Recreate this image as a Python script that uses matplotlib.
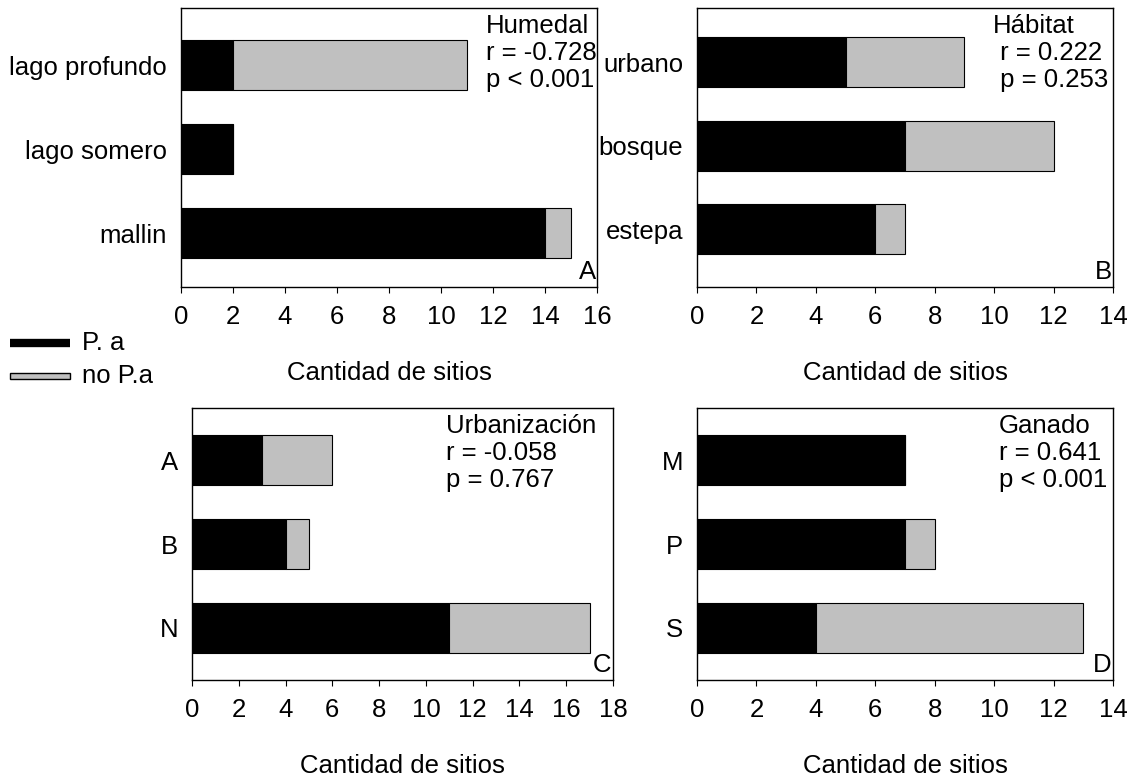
import matplotlib

matplotlib.use("Agg")
import matplotlib.pyplot as plt
from matplotlib.lines import Line2D
from matplotlib.patches import Rectangle

plt.rcParams["font.family"] = ["Liberation Sans", "DejaVu Sans"]

# panel data: categories (bottom to top), P. a counts, no P.a counts
hum_cats = ["mallin", "lago somero", "lago profundo"]
hum_pa = [14, 2, 2]
hum_no = [1, 0, 9]

hab_cats = ["estepa", "bosque", "urbano"]
hab_pa = [6, 7, 5]
hab_no = [1, 5, 4]

urb_cats = ["N", "B", "A"]
urb_pa = [11, 4, 3]
urb_no = [6, 1, 3]

gan_cats = ["S", "P", "M"]
gan_pa = [4, 7, 7]
gan_no = [9, 1, 0]

PANELS = [
    # cats, pa, no, xmax, stats text, letter, axes rect (px), ylim, text x
    (hum_cats, hum_pa, hum_no, 16, "Humedal\nr = -0.728\np < 0.001", "A",
     (181, 8, 597, 287), (-0.64, 2.68), 486),
    (hab_cats, hab_pa, hab_no, 14, "Hábitat\n r = 0.222\n p = 0.253", "B",
     (697, 8, 1113, 287), (-0.69, 2.65), 993),
    (urb_cats, urb_pa, urb_no, 18, "Urbanización\nr = -0.058\np = 0.767", "C",
     (192, 408, 613, 680), (-0.62, 2.62), 446),
    (gan_cats, gan_pa, gan_no, 14, "Ganado\nr = 0.641\np < 0.001", "D",
     (697, 408, 1113, 680), (-0.62, 2.62), 999),
]

W, H = 1141, 780
GREY = "#c0c0c0"
FS = 18.5

fig = plt.figure(figsize=(W / 100, H / 100), dpi=100)

for cats, pa, no, xmax, stats, letter, (x0, y0, x1, y1), ylim, tx in PANELS:
    ax = fig.add_axes([x0 / W, 1 - y1 / H, (x1 - x0) / W, (y1 - y0) / H])
    ypos = list(range(len(cats)))
    ax.barh(ypos, pa, height=0.6, color="black", edgecolor="black", linewidth=0.8)
    ax.barh(ypos, no, left=pa, height=0.6, color=GREY, edgecolor="black", linewidth=0.8)
    ax.set_xlim(0, xmax)
    ax.set_ylim(*ylim)
    ax.set_xticks(range(0, xmax + 1, 2))
    ax.set_yticks(ypos)
    ax.set_yticklabels(cats)
    ax.tick_params(axis="y", length=0, pad=10, labelsize=FS)
    ax.tick_params(axis="x", direction="out", length=4, pad=9, labelsize=FS)
    for s in ax.spines.values():
        s.set_linewidth(1.0)
    ax.set_xlabel("Cantidad de sitios", fontsize=FS, labelpad=23)
    fig.text(tx / W, 1 - (y0 + 6) / H, stats, ha="left", va="top",
             fontsize=FS, linespacing=1.17)
    ax.text(0.997, 0.01, letter, transform=ax.transAxes, ha="right", va="bottom",
            fontsize=FS)

# legend drawn at figure level
fig.add_artist(Line2D([10 / W, 70 / W], [1 - 343 / H, 1 - 343 / H],
                      color="black", linewidth=6, solid_capstyle="butt"))
fig.text(82 / W, 1 - 343 / H, "P. a", ha="left", va="center", fontsize=FS)
fig.add_artist(Rectangle((10 / W, 1 - 379 / H), 60 / W, 6 / H,
                         facecolor=GREY, edgecolor="black", linewidth=1.0,
                         transform=fig.transFigure))
fig.text(82 / W, 1 - 376 / H, "no P.a", ha="left", va="center", fontsize=FS)

fig.savefig("out.png", dpi=100)
